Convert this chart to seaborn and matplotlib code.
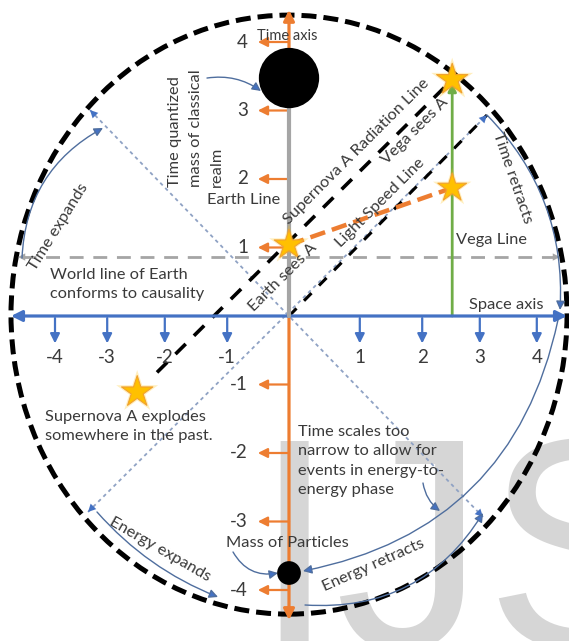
import numpy as np
import pandas as pd
import matplotlib
matplotlib.use("Agg")
import matplotlib.pyplot as plt
from matplotlib.patches import Ellipse
import seaborn as sns

sns.set_theme(style="white")
plt.rcParams['font.family'] = ['Lato', 'DejaVu Sans']

# ---------------- data (diagram units: space x, time y) ----------------
space_ticks = [-4, -3, -2, -1, 1, 2, 3, 4]
space_tick_pos = [-3.9, -3.03, -2.07, -1.03, 1.18, 2.22, 3.18, 4.13]
time_ticks = [-4, -3, -2, -1, 1, 2, 3, 4]

event_names = ["Earth sees A", "Vega (mid)", "Vega sees A", "Supernova A"]
event_x = [0.0, 2.72, 2.72, -2.53]
event_y = [1.04, 1.87, 3.45, -1.11]
event_size = [500, 470, 560, 560]
radiation_start_x = -2.2      # visible start of the radiation line

classical_mass_y = 3.474      # big black disc on time axis
particle_mass_y = -3.752      # small black disc on time axis
earth_line_top = 3.49
vega_line_top = 3.40
world_line_y = 0.861
light_speed_end = (3.3, 2.934)
anti_diag_start = (-3.35, -2.861)
diag_start = (-3.317, 3.007)
diag_end = (3.233, -2.934)

BLUE = "#4472C4"
ORANGE = "#ED7D31"
GRAY = "#A5A5A5"
GREEN = "#70AD47"
GOLD = "#FFC000"
TXT = "#3a3a3a"
CURVE = "#4F6E9E"

fig = plt.figure(figsize=(5.69, 6.41), dpi=100)
ax = fig.add_axes([0, 0, 1, 1])
ax.set_xlim(-289 / 60, (569 - 289) / 60)
ax.set_ylim((316 - 641) / 68.5, 316 / 68.5)
ax.axis("off")

# watermark
ax.text(-0.617, -4.85, "IJS", fontsize=216, family="Liberation Sans",
        color="#d6d6d6", ha="left", va="baseline", zorder=0)

# outer dashed circle
ax.add_patch(Ellipse((0, 0.02), 9.267, 8.745, fill=False, ec="black",
                     lw=3.6, ls=(0, (3, 1.4)), zorder=3))


def arrow(p0, p1, color, lw=1.0, ms=12, style="-|>", rad=0.0, z=4):
    ax.annotate("", xy=p1, xytext=p0,
                arrowprops=dict(arrowstyle=style, color=color, lw=lw,
                                mutation_scale=ms, shrinkA=0, shrinkB=0,
                                connectionstyle=f"arc3,rad={rad}"),
                zorder=z)


def head(tip, frm, color, ms=13, z=5):
    ax.annotate("", xy=tip, xytext=frm,
                arrowprops=dict(arrowstyle="-|>", color=color, lw=0.01,
                                mutation_scale=ms, shrinkA=0, shrinkB=0),
                zorder=z)


# thin dotted diagonals
d1 = pd.DataFrame({"x": [diag_start[0], diag_end[0]], "y": [diag_start[1], diag_end[1]]})
sns.lineplot(data=d1, x="x", y="y", ax=ax, color="#8FA2C4", lw=1.3,
             ls=(0, (2, 2)), sort=False, zorder=2)
d2 = pd.DataFrame({"x": [anti_diag_start[0], light_speed_end[0]],
                   "y": [anti_diag_start[1], light_speed_end[1]]})
sns.lineplot(data=d2, x="x", y="y", ax=ax, color="#8FA2C4", lw=1.3,
             ls=(0, (2, 2)), sort=False, zorder=2)
for tip, v in [(diag_start, (1, -1)), (diag_end, (-1, 1)),
               (anti_diag_start, (1, 1)), (light_speed_end, (-1, -1))]:
    head(tip, (tip[0] + 0.2 * v[0], tip[1] + 0.18 * v[1]), BLUE, ms=14)

# light speed line (black dashes over blue dots)
ls_df = pd.DataFrame({"x": [0, light_speed_end[0]], "y": [0, light_speed_end[1]]})
sns.lineplot(data=ls_df, x="x", y="y", ax=ax, color="black", lw=2.2,
             ls=(0, (3.5, 3.5)), sort=False, zorder=3)

# world line of Earth (gray dashed)
wl = pd.DataFrame({"x": [-4.45, 4.45], "y": [world_line_y, world_line_y]})
sns.lineplot(data=wl, x="x", y="y", ax=ax, color=GRAY, lw=2.0,
             ls=(0, (5, 3.5)), sort=False, zorder=2)
head((-4.517, world_line_y), (-4.3, world_line_y), GRAY, ms=13)
head((4.517, world_line_y), (4.3, world_line_y), GRAY, ms=13)

# supernova A radiation line (from supernova towards Vega's top event)
sn, vt = 3, 2
rs_y = np.interp(radiation_start_x, [event_x[sn], event_x[vt]], [event_y[sn], event_y[vt]])
rl = pd.DataFrame({"x": [radiation_start_x, event_x[vt]], "y": [rs_y, event_y[vt]]})
sns.lineplot(data=rl, x="x", y="y", ax=ax, color="black", lw=2.6,
             ls=(0, (4, 3.2)), sort=False, zorder=3)

# earth -> vega orange dashed
od = pd.DataFrame({"x": [event_x[0], event_x[1]], "y": [event_y[0], event_y[1]]})
sns.lineplot(data=od, x="x", y="y", ax=ax, color=ORANGE, lw=3.2,
             ls=(0, (3.5, 1.6)), sort=False, zorder=4)

# Vega line (green) and Earth line (gray)
arrow((event_x[1], 0), (event_x[1], vega_line_top), GREEN, lw=2.0, ms=12, z=3)
arrow((0, 0), (0, earth_line_top), GRAY, lw=3.0, ms=16, z=6)

# axes
arrow((-4.633, 0), (4.633, 0), BLUE, lw=2.3, ms=16, style="<|-|>", z=5)
arrow((0, -4.44), (0, 4.47), ORANGE, lw=2.3, ms=16, style="<|-|>", z=4)

for t, p in zip(space_ticks, space_tick_pos):
    arrow((p, -0.03), (p, -0.40), BLUE, lw=1.6, ms=14, z=5)
    ax.text(p, -0.613, str(t), ha="center", va="center", fontsize=13.5, color=TXT)
for t in time_ticks:
    arrow((0, t), (-0.52, t), ORANGE, lw=1.6, ms=14, z=5)
    ax.text(-0.683, t, str(t), ha="right", va="center", fontsize=13.5, color=TXT)

# black mass discs
sns.scatterplot(x=[0, 0], y=[classical_mass_y, particle_mass_y], s=[1750, 240],
                size=[1750, 240], sizes=(240, 1750), legend=False,
                color="black", edgecolor="black", ax=ax, zorder=7)

# stars
for x, y, s in zip(event_x, event_y, event_size):
    ax.scatter([x], [y], s=s * 1.8, marker="*", color=GOLD, alpha=0.25,
               edgecolors="none", zorder=7)
sns.scatterplot(x=event_x, y=event_y, size=event_size, sizes=(470, 560),
                marker="*", color=GOLD, edgecolor="#F0A030", linewidth=0.8,
                legend=False, ax=ax, zorder=8)

# curved annotation arrows
curves = [((-4.45, 0.847), (-3.1, 2.745), -0.28),
          ((3.3, 2.934), (4.517, 0.088), -0.22),
          ((-3.2, -2.861), (-1.183, -4.102), 0.12),
          ((0.267, -4.219), (3.233, -2.876), 0.3),
          ((4.483, -0.058), (0.233, -3.723), -0.33),
          ((-0.933, -3.445), (-0.183, -3.752), 0.35),
          ((-1.367, 3.474), (-0.467, 3.285), -0.2),
          ((2.233, -2.438), (2.517, -2.847), 0.2)]
for p0, p1, r in curves:
    ax.annotate("", xy=p1, xytext=p0,
                arrowprops=dict(arrowstyle="-|>", color=CURVE, lw=1.0,
                                mutation_scale=13, shrinkA=0, shrinkB=0,
                                connectionstyle=f"arc3,rad={r}", fc=BLUE, ec=CURVE),
                zorder=5)

# texts
fs = 11.8
ax.text(-0.033, 4.088, "Time axis", ha="center", va="center", fontsize=10.5, color=TXT, zorder=9)
ax.text(-0.75, 1.693, "Earth Line", ha="center", va="center", fontsize=fs, color=TXT, zorder=9)
ax.text(-1.55, 1.883, "Time quantized\nmass of classical\nrealm", rotation=90,
        ha="center", va="bottom", multialignment="left", fontsize=fs, color=TXT,
        linespacing=1.6, zorder=9)
ax.text(-3.983, 0.46, "World line of Earth\nconforms to causality", ha="left",
        va="center", fontsize=fs, color=TXT, linespacing=1.52, zorder=9)
rot_texts = [("Supernova A Radiation Line", 1.133, 2.394, 45),
             ("Vega sees A", 2.1, 2.701, 45),
             ("Light Speed Line", 1.517, 1.65, 45),
             ("Earth sees A", -0.1, 0.569, 45),
             ("Time retracts", 3.717, 2.015, -71),
             ("Energy expands", -2.15, -3.416, -30),
             ("Energy retracts", 1.4, -3.635, 24),
             ("Time expands", -3.85, 1.299, 58)]
for s, x, y, r in rot_texts:
    ax.text(x, y, s, rotation=r, rotation_mode="anchor", ha="center", va="center",
            fontsize=fs, color=TXT, zorder=9)
ax.text(3.383, 1.109, "Vega Line", ha="center", va="center", fontsize=fs, color=TXT, zorder=9)
ax.text(3.617, 0.161, "Space axis", ha="center", va="center", fontsize=fs, color=TXT, zorder=9)
ax.text(-4.067, -1.613, "Supernova A explodes\nsomewhere in the past.", ha="left",
        va="center", fontsize=fs, color=TXT, linespacing=1.52, zorder=9)
ax.text(0.15, -2.117, "Time scales too\nnarrow to allow for\nevents in energy-to-\nenergy phase",
        ha="left", va="center", fontsize=fs, color=TXT, linespacing=1.47, zorder=9)
ax.text(-1.05, -3.314, "Mass of Particles", ha="left", va="center", fontsize=fs,
        color=TXT, zorder=9)

fig.savefig("out.png", dpi=100)
